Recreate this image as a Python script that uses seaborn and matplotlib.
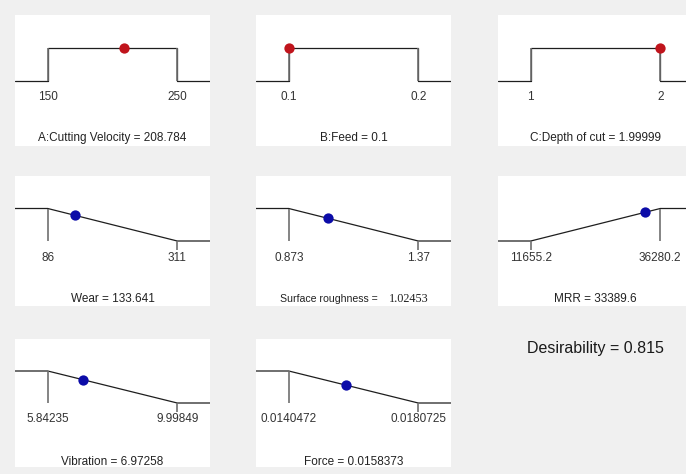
import matplotlib
matplotlib.use("Agg")
import matplotlib.pyplot as plt
import seaborn as sns

# factor / response settings
names = ["A:Cutting Velocity", "B:Feed", "C:Depth of cut", "Wear",
         "Surface roughness", "MRR", "Vibration", "Force"]
lows = [150, 0.1, 1, 86, 0.873, 11655.2, 5.84235, 0.0140472]
highs = [250, 0.2, 2, 311, 1.37, 36280.2, 9.99849, 0.0180725]
values = [208.784, 0.1, 1.99999, 133.641, 1.02453, 33389.6, 6.97258, 0.0158373]
goals = ["range", "range", "range", "min", "min", "max", "min", "min"]
low_labels = ["150", "0.1", "1", "86", "0.873", "11655.2", "5.84235", "0.0140472"]
high_labels = ["250", "0.2", "2", "311", "1.37", "36280.2", "9.99849", "0.0180725"]
value_labels = ["208.784", "0.1", "1.99999", "133.641", "1.02453", "33389.6",
                "6.97258", "0.0158373"]
desirability = 0.815

W, H = 686, 474
BG = "#f0f0f0"
# panel boxes in pixels: left, top, width, height
col_x = [15, 256, 498]
row_y = [(15, 131), (176, 130), (339, 128)]
title_y = [0.06, 0.055, 0.04]

sns.set_style("white")
plt.rcParams["font.family"] = ["Liberation Sans", "DejaVu Sans"]

fig = plt.figure(figsize=(W / 100, H / 100), dpi=100, facecolor=BG)


def add_panel(left, top, width, height):
    return fig.add_axes([left / W, 1 - (top + height) / H, width / W, height / H])


def ramp(lo, hi, goal, pad):
    left, right = lo - pad, hi + pad
    if goal == "range":
        return [left, lo, lo, hi, hi, right], [0, 0, 1, 1, 0, 0]
    if goal == "min":
        return [left, lo, hi, right], [1, 1, 0, 0]
    return [left, lo, hi, right], [0, 0, 1, 1]


def desir(v, lo, hi, goal):
    if goal == "range":
        return 1.0
    if goal == "min":
        d = (hi - v) / (hi - lo)
    else:
        d = (v - lo) / (hi - lo)
    return min(max(d, 0.0), 1.0)


for i, name in enumerate(names):
    r, c = divmod(i, 3)
    top, height = row_y[r]
    ax = add_panel(col_x[c], top, 195, height)
    ax.set_facecolor("white")
    for s in ax.spines.values():
        s.set_visible(False)
    ax.set_xticks([])
    ax.set_yticks([])

    lo, hi, v, goal = lows[i], highs[i], values[i], goals[i]
    pad = (hi - lo) * 0.253
    xs, ys = ramp(lo, hi, goal, pad)
    sns.lineplot(x=xs, y=ys, ax=ax, color="#1e1e1e", linewidth=0.9,
                 sort=False, estimator=None)

    # limit markers
    for lim, top_d in [(lo, goal != "max"), (hi, goal != "min")]:
        if top_d:
            ax.vlines(lim, 0, 1, color="#707070", linewidth=1.2)
        else:
            ax.vlines(lim, -0.28, 0, color="#707070", linewidth=1.2)

    dot = "#c0141c" if goal == "range" else "#0c0ca8"
    sns.scatterplot(x=[v], y=[desir(v, lo, hi, goal)], ax=ax, color=dot,
                    s=55, linewidth=0, zorder=5)

    ax.set_xlim(lo - pad, hi + pad)
    ax.set_ylim(-2, 2)
    ax.set_xlabel("")
    ax.set_ylabel("")

    tr = ax.get_xaxis_transform()
    ax.text(lo, 0.373, low_labels[i], transform=tr, ha="center", va="center",
            fontsize=8.5, color="#333333")
    ax.text(hi, 0.373, high_labels[i], transform=tr, ha="center", va="center",
            fontsize=8.5, color="#333333")

    if name == "Surface roughness":
        ax.text(0.625, title_y[r], f"{name} =", transform=ax.transAxes,
                ha="right", va="center", fontsize=7.6, color="#222222",
                family=["Liberation Sans Narrow", "Liberation Sans"])
        ax.text(0.68, title_y[r], value_labels[i], transform=ax.transAxes,
                ha="left", va="center", fontsize=8.8, color="#222222",
                family=["Liberation Serif", "DejaVu Serif"])
    else:
        ax.text(0.5, title_y[r], f"{name} = {value_labels[i]}",
                transform=ax.transAxes, ha="center", va="center",
                fontsize=8.5, color="#222222")

fig.text(595 / W, 1 - 349 / H, f"Desirability = {desirability}",
         ha="center", va="center", fontsize=11.5, color="#1a1a1a")

fig.savefig("out.png", dpi=100, facecolor=BG)
